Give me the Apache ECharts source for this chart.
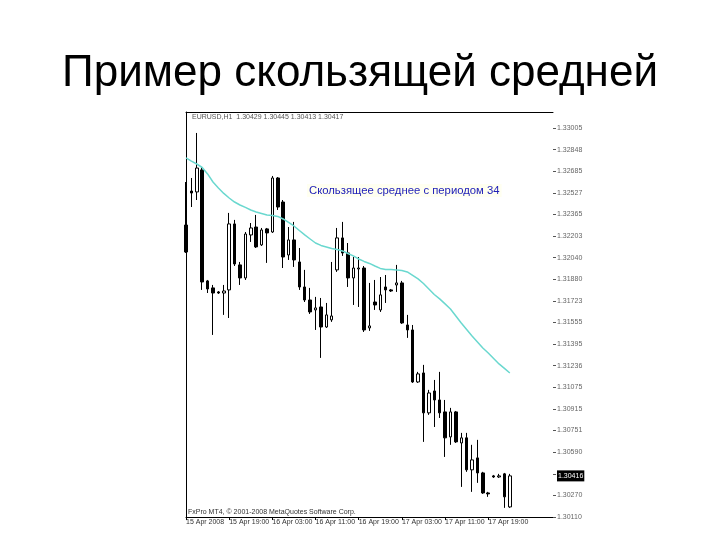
<!DOCTYPE html>
<html>
<head>
<meta charset="utf-8">
<title>Пример скользящей средней</title>
<script src="https://cdn.jsdelivr.net/npm/echarts@6/dist/echarts.min.js"></script>
<style>
  html, body { margin: 0; padding: 0; background: #fff; }
  #chart { width: 720px; height: 540px; }
</style>
</head>
<body>
<div id="chart"></div>
<script>
// EURUSD H1, 15-17 Apr 2008
let open = [1.32283, 1.32536, 1.32529, 1.32693, 1.31867, 1.31815, 1.31785, 1.31777, 1.31800, 1.32291,
  1.31986, 1.31889, 1.32209, 1.32268, 1.32135, 1.32254, 1.32231, 1.32633, 1.32454, 1.32060,
  1.32172, 1.32008, 1.31822, 1.31725, 1.31651, 1.31673, 1.31524, 1.31577, 1.31949, 1.32187,
  1.32075, 1.31889, 1.31956, 1.31963, 1.31517, 1.31710, 1.31651, 1.31822, 1.31800, 1.31837,
  1.31852, 1.31539, 1.31502, 1.31115, 1.31182, 1.30885, 1.31048, 1.30981, 1.30892, 1.30706,
  1.30892, 1.30661, 1.30699, 1.30461, 1.30550, 1.30438, 1.30289, 1.30416, 1.30408, 1.30431,
  1.30185]
let high = [1.32603, 1.32633, 1.32968, 1.32715, 1.31874, 1.31837, 1.31792, 1.31837, 1.32373, 1.32321,
  1.32008, 1.32231, 1.32298, 1.32358, 1.32261, 1.32261, 1.32648, 1.32640, 1.32469, 1.32268,
  1.32306, 1.32112, 1.31949, 1.31815, 1.31748, 1.31740, 1.31703, 1.32008, 1.32261, 1.32306,
  1.32149, 1.32045, 1.32045, 1.31978, 1.31852, 1.31874, 1.31896, 1.31911, 1.31807, 1.31986,
  1.31867, 1.31614, 1.31539, 1.31190, 1.31242, 1.31056, 1.31130, 1.31190, 1.30981, 1.30922,
  1.30899, 1.30736, 1.30736, 1.30647, 1.30684, 1.30446, 1.30297, 1.30423, 1.30431, 1.30438,
  1.30431]
let low = [1.32075, 1.32417, 1.32469, 1.31800, 1.31777, 1.31465, 1.31770, 1.31614, 1.31591, 1.31978,
  1.31837, 1.31874, 1.32157, 1.32112, 1.32127, 1.32001, 1.32224, 1.32395, 1.31963, 1.32023,
  1.31971, 1.31800, 1.31710, 1.31621, 1.31502, 1.31294, 1.31517, 1.31562, 1.31934, 1.32053,
  1.31822, 1.31688, 1.31673, 1.31487, 1.31495, 1.31651, 1.31636, 1.31703, 1.31785, 1.31785,
  1.31547, 1.31443, 1.31108, 1.31108, 1.30669, 1.30870, 1.30780, 1.30847, 1.30557, 1.30647,
  1.30661, 1.30334, 1.30446, 1.30297, 1.30364, 1.30282, 1.30260, 1.30401, 1.30401, 1.30178,
  1.30178]
let close = [1.32082, 1.32521, 1.32707, 1.31859, 1.31807, 1.31777, 1.31777, 1.31792, 1.32291, 1.31993,
  1.31889, 1.32216, 1.32261, 1.32120, 1.32246, 1.32224, 1.32633, 1.32417, 1.32045, 1.32172,
  1.32023, 1.31822, 1.31725, 1.31636, 1.31666, 1.31524, 1.31614, 1.31606, 1.32187, 1.32075,
  1.31889, 1.31963, 1.31963, 1.31502, 1.31532, 1.31688, 1.31763, 1.31800, 1.31792, 1.31852,
  1.31554, 1.31502, 1.31115, 1.31175, 1.30885, 1.31033, 1.30981, 1.30885, 1.30699, 1.30892,
  1.30669, 1.30699, 1.30461, 1.30535, 1.30438, 1.30289, 1.30282, 1.30408, 1.30416, 1.30260,
  1.30416]
// скользящая средняя, период 34
let ma34 = [1.32782, 1.32759, 1.32737, 1.32711, 1.32663, 1.32603, 1.32559, 1.32518, 1.32484, 1.32454,
  1.32432, 1.32414, 1.32395, 1.32380, 1.32369, 1.32358, 1.32354, 1.32347, 1.32328, 1.32302,
  1.32276, 1.32242, 1.32209, 1.32179, 1.32149, 1.32131, 1.32120, 1.32108, 1.32101, 1.32090,
  1.32071, 1.32053, 1.32030, 1.32012, 1.31997, 1.31978, 1.31960, 1.31952, 1.31952, 1.31949,
  1.31945, 1.31934, 1.31908, 1.31882, 1.31848, 1.31807, 1.31766, 1.31733, 1.31696, 1.31658,
  1.31606, 1.31554, 1.31506, 1.31457, 1.31413, 1.31368, 1.31331, 1.31290, 1.31249, 1.31216,
  1.31182]
// подписи цены справа (сверху вниз)
let priceLabels = ['1.33005', '1.32848', '1.32685', '1.32527', '1.32365', '1.32203', '1.32040',
  '1.31880', '1.31723', '1.31555', '1.31395', '1.31236', '1.31075', '1.30915', '1.30751',
  '1.30590', '1.30430', '1.30270', '1.30110']
// подписи времени, каждые 8 баров
let timeLabels = ['15 Apr 2008', '15 Apr 19:00', '16 Apr 03:00', '16 Apr 11:00',
  '16 Apr 19:00', '17 Apr 03:00', '17 Apr 11:00', '17 Apr 19:00']
let shiftBars = 8 // пустое место справа (chart shift)

// часы: 15 Apr 11:00 ... 17 Apr 23:00
let times = []
for (let i = 0; i < open.length; i++) {
  let h = 11 + i
  times.push((15 + Math.floor(h / 24)) + ' Apr ' + String(h % 24).padStart(2, '0') + ':00')
}
for (let i = 0; i < shiftBars; i++) times.push('')

let candles = open.map((o, i) => [o, close[i], low[i], high[i]])
let lastClose = close[close.length - 1]
let lastIdx = times.length - 1
let font = 'Liberation Sans'
let showTick = (idx) => idx % 8 === 0 && idx < open.length

let chart = echarts.init(document.getElementById('chart'))
chart.setOption({
  animation: false,
  backgroundColor: '#fff',
  title: {
    text: 'Пример скользящей средней',
    left: 'center',
    top: 47,
    textStyle: { fontSize: 44, fontWeight: 'normal', fontFamily: font, color: '#000' }
  },
  grid: [
    { left: 186, right: 167, top: 112, bottom: 23 },
    { left: 186, right: 167, top: 128, bottom: 23 }
  ],
  xAxis: [
    {
      type: 'category', data: times, boundaryGap: false, gridIndex: 0,
      axisLine: { onZero: false, lineStyle: { color: '#000', width: 1 } },
      axisTick: { interval: showTick, length: 3, lineStyle: { color: '#000' } },
      axisLabel: {
        interval: showTick, align: 'left', margin: 2,
        fontSize: 7, fontFamily: font, color: '#333',
        formatter: (v, idx) => timeLabels[idx / 8]
      },
      splitLine: { show: false }
    },
    {
      type: 'category', data: times, boundaryGap: false, gridIndex: 0, position: 'top',
      axisLine: { onZero: false, lineStyle: { color: '#000', width: 1 } },
      axisTick: { show: false }, axisLabel: { show: false }
    },
    { type: 'value', gridIndex: 1, show: false }
  ],
  yAxis: [
    {
      type: 'value', gridIndex: 0, min: 1.30110, max: 1.33124, position: 'left',
      axisLine: { show: true, onZero: false, lineStyle: { color: '#000', width: 1 } },
      axisTick: { show: false }, axisLabel: { show: false }, splitLine: { show: false }
    },
    {
      type: 'category', gridIndex: 1, data: priceLabels, inverse: true, boundaryGap: false,
      position: 'right',
      axisLine: { show: false, onZero: false },
      axisTick: { show: true, length: 3, lineStyle: { color: '#555' } },
      axisLabel: {
        margin: 4, fontSize: 7, fontFamily: font, color: '#666',
        // метку под ценой Bid не видно
        formatter: (v) => Math.abs(parseFloat(v) - lastClose) < 0.0008 ? '' : v
      }
    }
  ],
  series: [
    {
      type: 'candlestick',
      data: candles,
      xAxisIndex: 0,
      yAxisIndex: 0,
      barWidth: 3,
      itemStyle: {
        color: '#fff', color0: '#000',
        borderColor: '#000', borderColor0: '#000', borderWidth: 1
      },
      // цена Bid в чёрной рамке на шкале (короткий белый отрезок у правого края)
      markLine: {
        silent: true,
        symbol: 'none',
        lineStyle: { color: '#fff', width: 1, type: 'solid' },
        data: [[{ coord: [lastIdx - 1, lastClose] }, { coord: [lastIdx, lastClose] }]],
        label: {
          show: true, position: 'end', distance: 4,
          formatter: lastClose.toFixed(5),
          backgroundColor: '#000', color: '#fff',
          fontSize: 7, fontFamily: font, padding: [2, 1]
        }
      }
    },
    {
      type: 'line',
      data: ma34,
      xAxisIndex: 0,
      yAxisIndex: 0,
      symbol: 'none',
      lineStyle: { color: '#6ad8cf', width: 1.5 },
      z: 3
    }
  ],
  graphic: [
    {
      type: 'text', left: 192, top: 114,
      style: { text: 'EURUSD,H1  1.30429 1.30445 1.30413 1.30417', fontSize: 7, fontFamily: font, fill: '#555' }
    },
    {
      type: 'text', left: 307, top: 184,
      style: {
        text: 'Скользящее среднее с периодом 34', fontSize: 11.3, fontFamily: font,
        fill: '#2222b8', backgroundColor: '#fffff0', padding: [1, 2]
      }
    },
    {
      type: 'text', left: 188, top: 509,
      style: { text: 'FxPro MT4, © 2001-2008 MetaQuotes Software Corp.', fontSize: 7, fontFamily: font, fill: '#333' }
    }
  ]
})
</script>
</body>
</html>
